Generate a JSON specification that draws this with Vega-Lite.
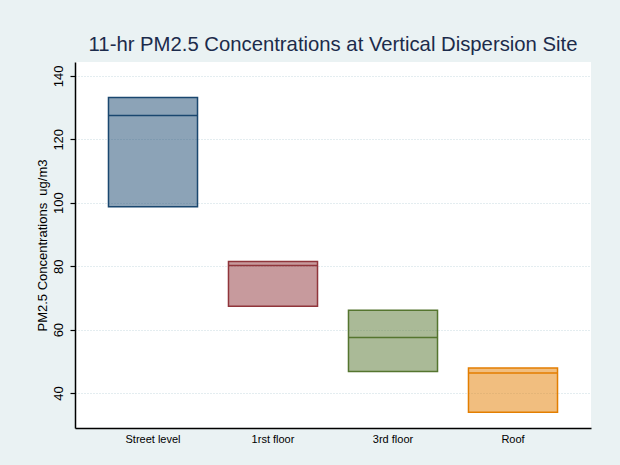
{
  "$schema": "https://vega.github.io/schema/vega-lite/v6.json",
  "width": 516,
  "height": 366,
  "autosize": {"type": "none"},
  "padding": {"left": 75, "top": 62, "right": 29, "bottom": 37},
  "background": "#EAF2F3",
  "title": {
    "text": "11-hr PM2.5 Concentrations at Vertical Dispersion Site",
    "font": "Liberation Sans",
    "fontSize": 20.3,
    "fontWeight": "normal",
    "color": "#1C2B4B",
    "anchor": "middle",
    "offset": 7
  },
  "data": {
    "values": [
      {"floor": "Street level", "q1": 98.7, "median": 127.5, "q3": 133.2},
      {"floor": "1rst floor", "q1": 67.4, "median": 80.2, "q3": 81.5},
      {"floor": "3rd floor", "q1": 46.8, "median": 57.5, "q3": 66.1},
      {"floor": "Roof", "q1": 34.0, "median": 46.3, "q3": 47.9}
    ]
  },
  "encoding": {
    "x": {
      "field": "floor",
      "type": "nominal",
      "sort": null,
      "title": null,
      "scale": {"paddingInner": 0.258, "paddingOuter": 0.279},
      "axis": {
        "labelAngle": 0,
        "ticks": false,
        "labelPadding": 5,
        "labelFont": "Liberation Sans",
        "labelFontSize": 11,
        "labelColor": "#000000",
        "domainColor": "#000000",
        "domainWidth": 1.5,
        "grid": false
      }
    },
    "fill": {
      "field": "floor",
      "type": "nominal",
      "sort": null,
      "scale": {"range": ["#1A476F", "#90353B", "#55752F", "#E37E00"]},
      "legend": null
    },
    "stroke": {
      "field": "floor",
      "type": "nominal",
      "sort": null,
      "scale": {"range": ["#1A476F", "#90353B", "#55752F", "#E37E00"]},
      "legend": null
    }
  },
  "layer": [
    {
      "mark": {"type": "bar", "fillOpacity": 0.5, "strokeWidth": 1.5},
      "encoding": {
        "y": {
          "field": "q1",
          "type": "quantitative",
          "title": "PM2.5 Concentrations\u00a0 ug/m3",
          "scale": {"domain": [29, 144.35], "nice": false, "zero": false},
          "axis": {
            "values": [40, 60, 80, 100, 120, 140],
            "labelAngle": -90,
            "labelFont": "Liberation Sans",
            "labelFontSize": 13,
            "labelColor": "#000000",
            "labelPadding": 5,
            "tickSize": 5,
            "tickColor": "#000000",
            "tickWidth": 1.2,
            "domainColor": "#000000",
            "domainWidth": 1.5,
            "gridColor": "#C9DAE0",
            "gridDash": [1, 2],
            "gridWidth": 1,
            "titleFont": "Liberation Sans",
            "titleFontSize": 13,
            "titleFontWeight": "normal",
            "titleColor": "#000000",
            "titlePadding": 3
          }
        },
        "y2": {"field": "q3"}
      }
    },
    {
      "mark": {"type": "bar", "fillOpacity": 0, "strokeWidth": 1.5},
      "encoding": {
        "y": {"field": "median", "type": "quantitative"},
        "y2": {"field": "median"}
      }
    }
  ],
  "config": {
    "view": {"fill": "#FFFFFF", "stroke": null}
  }
}
